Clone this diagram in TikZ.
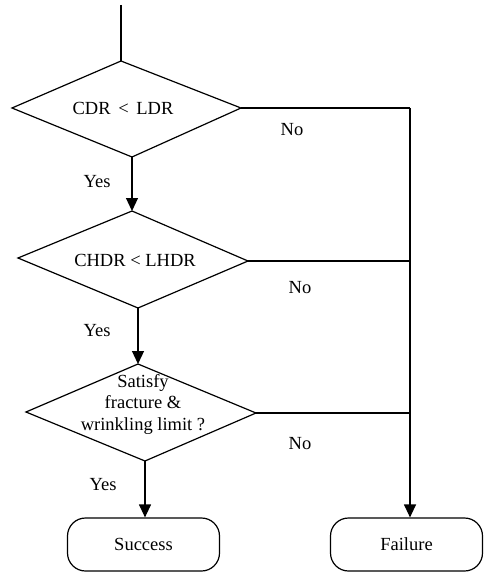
\documentclass[tikz,border=0pt]{standalone}
\usepackage{fontspec}
\setmainfont{Liberation Serif}
\usetikzlibrary{arrows.meta}
\begin{document}
\begin{tikzpicture}[x=1pt,y=-1pt,
  line width=1.2pt,
  lbl/.style={font=\fontsize{18.5}{21}\selectfont, inner sep=0pt},
  arr/.style={-{Triangle[length=13pt,width=12pt]}},
  term/.style={draw, rounded corners=18pt, minimum width=152pt, minimum height=53pt, font=\fontsize{18.5}{21}\selectfont, inner sep=0pt}]
\useasboundingbox (0,0) rectangle (486,572);
% start
\coordinate (start) at (121,5);
% diamond 1
\coordinate (d1t) at (121,61);
\coordinate (d1l) at (12,108);
\coordinate (d1r) at (241,108);
\coordinate (d1b) at (132,157);
% diamond 2
\coordinate (d2t) at (132,211);
\coordinate (d2l) at (18,258);
\coordinate (d2r) at (248,261);
\coordinate (d2b) at (138,308);
% diamond 3
\coordinate (d3t) at (138,364);
\coordinate (d3l) at (26,412);
\coordinate (d3r) at (256,413);
\coordinate (d3b) at (145,461);
% right trunk
\coordinate (j1) at (410,108);
\coordinate (j2) at (410,261);
\coordinate (j3) at (410,413);
% shapes
\draw (d1t) -- (d1r) -- (d1b) -- (d1l) -- cycle;
\draw (d2t) -- (d2r) -- (d2b) -- (d2l) -- cycle;
\draw (d3t) -- (d3r) -- (d3b) -- (d3l) -- cycle;
\node[lbl] (t1) at (123,108) {CDR \,<\, LDR};
\node[lbl] (t2) at (135,260) {CHDR < LHDR};
\node[lbl, align=center, font=\fontsize{18.5}{21.5}\selectfont] (t3) at (143,404) {Satisfy\\fracture \&\\wrinkling limit ?};
\node[term] (succ) at (143.5,544.5) {Success};
\node[term] (fail) at (406.5,544.5) {Failure};
% connectors
\draw (start) -- (d1t);
\draw[arr] (d1b) -- (d2t);
\draw[arr] (d2b) -- (d3t);
\draw[arr] (d3b) -- (d3b |- succ.north);
\draw (d1r) -- (j1);
\draw (d2r) -- (j2);
\draw (d3r) -- (j3);
\draw[arr] (j1) -- (j1 |- fail.north);
% labels
\node[lbl] (y1) at (97,182) {Yes};
\node[lbl] (y2) at (97,331) {Yes};
\node[lbl] (y3) at (103,485) {Yes};
\node[lbl] (n1) at (292,130) {No};
\node[lbl] (n2) at (300,288) {No};
\node[lbl] (n3) at (300,444) {No};
\end{tikzpicture}
\end{document}
